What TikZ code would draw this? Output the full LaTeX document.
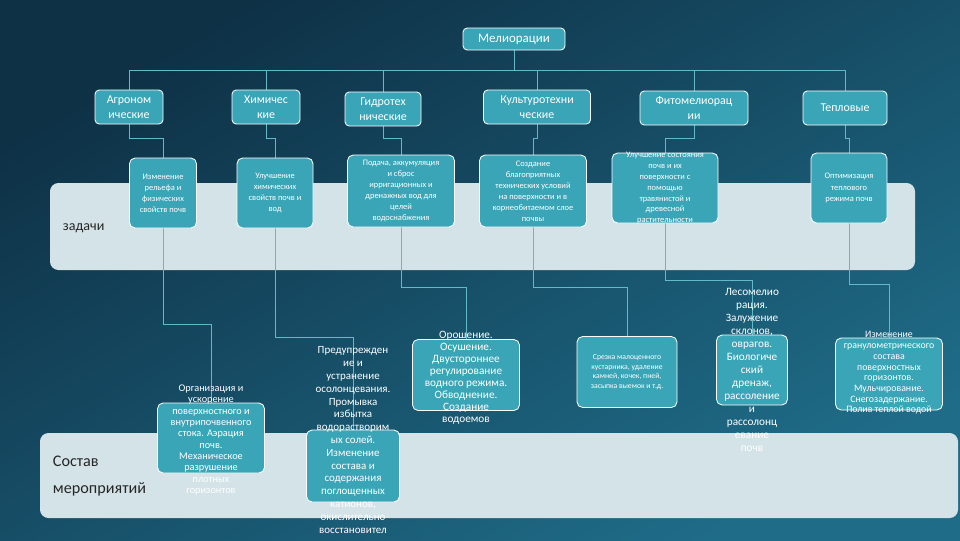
\documentclass[tikz,border=0pt]{standalone}
\usepackage{fontspec}
\setmainfont{Carlito}
\usetikzlibrary{backgrounds}

\definecolor{bgtop}{HTML}{0E3146}
\definecolor{bgbot}{HTML}{1F6C88}
\definecolor{boxfill}{HTML}{3AA5B7}
\definecolor{bandfill}{HTML}{D4E3E8}
\definecolor{linkc}{HTML}{62B9C8}

\newcommand{\fsz}[2]{\fontsize{#1}{#2}\selectfont}

\begin{document}
\begin{tikzpicture}[
  cat/.style={draw=white, semithick, fill=boxfill, rounded corners=3pt,
              text=white, align=center, minimum height=0.85cm,
              inner sep=1pt, font=\fsz{8.5}{10.4}},
  box/.style={draw=white, semithick, fill=boxfill, rounded corners=4pt},
  txt/.style={text=white, align=center, inner sep=0pt},
  band/.style={fill=bandfill, rounded corners=6pt},
  link/.style={linkc, thin},
  hd/.style={anchor=west, align=left, text=black!85},
]
  \useasboundingbox (0,0) rectangle (24,-13.5);

  %% Background and the two light bands
  \begin{pgfonlayer}{background}
    \shade[top color=bgtop, bottom color=bgbot, shading angle=30]
      (0,0) rectangle (24,-13.5);
    \fill[band] (1.25,-4.575) rectangle (22.875,-6.75);
    \fill[band] (1.0,-10.825) rectangle (23.95,-12.95);
  \end{pgfonlayer}

  \node[hd, font=\fsz{10}{12}] (zd) at (1.45,-5.7) {задачи};
  \node[hd, font=\fsz{11.5}{19}] (sm) at (1.2,-11.9) {Состав\\мероприятий};

  %% Root
  \node[cat, minimum width=2.55cm, minimum height=0.55cm,
        font=\fsz{9.2}{11}] (mel) at (12.85,-0.975) {Мелиорации};

  %% Kinds of melioration
  \node[cat, minimum width=1.7cm]   (c1) at (3.225,-2.675)  {Агроном\\ические};
  \node[cat, minimum width=1.7cm]   (c2) at (6.65,-2.675)   {Химичес\\кие};
  \node[cat, minimum width=1.9cm]   (c3) at (9.575,-2.725)  {Гидротех\\нические};
  \node[cat, minimum width=2.675cm] (c4) at (13.425,-2.675) {Культуротехни\\ческие};
  \node[cat, minimum width=2.7cm]   (c5) at (17.35,-2.7)    {Фитомелиорац\\ии};
  \node[cat, minimum width=2.1cm]   (c6) at (21.125,-2.7)   {Тепловые};

  %% Tasks
  \node[box, minimum width=1.675cm, minimum height=1.75cm] (t1) at (4.075,-4.825) {};
  \node[txt, font=\fsz{6}{7.9}] (t1t) at (t1) {Изменение\\рельефа и\\физических\\свойств почв};
  \node[box, minimum width=1.9cm, minimum height=1.75cm] (t2) at (6.875,-4.825) {};
  \node[txt, font=\fsz{6}{7.9}] (t2t) at (t2) {Улучшение\\химических\\свойств почв и\\вод};
  \node[box, minimum width=2.675cm, minimum height=1.8cm] (t3) at (10.025,-4.775) {};
  \node[txt, font=\fsz{6}{7.8}] (t3t) at (t3) {Подача, аккумуляция\\и сброс\\ирригационных и\\дренажных вод для\\целей\\водоснабжения};
  \node[box, minimum width=2.675cm, minimum height=1.8cm] (t4) at (13.325,-4.775) {};
  \node[txt, font=\fsz{6}{7.8}] (t4t) at (t4) {Создание\\благоприятных\\технических условий\\на поверхности и в\\корнеобитаемом слое\\почвы};
  \node[box, minimum width=2.65cm, minimum height=1.75cm] (t5) at (16.625,-4.7) {};
  \node[txt, font=\fsz{6}{7.8}] (t5t) at (16.625,-4.7) {Улучшение состояния\\почв и их\\поверхности с\\помощью\\травянистой и\\древесной\\растительности};
  \node[box, minimum width=1.9cm, minimum height=1.75cm] (t6) at (21.225,-4.7) {};
  \node[txt, font=\fsz{6}{7.9}] (t6t) at (t6) {Оптимизация\\теплового\\режима почв};

  %% Measures
  \node[box, minimum width=2.675cm, minimum height=1.75cm] (m1) at (5.275,-10.95) {};
  \node[txt, font=\fsz{7.3}{8.1}] (m1t) at (5.275,-11.0) {Организация и\\ускорение\\поверхностного и\\внутрипочвенного\\стока. Аэрация\\почв.\\Механическое\\разрушение\\плотных\\горизонтов};
  \node[box, minimum width=2.325cm, minimum height=1.8cm] (m2) at (8.825,-11.65) {};
  \node[txt, font=\fsz{7.8}{9.1}] (m2t) at (8.825,-11.0) {Предупрежден\\ие и\\устранение\\осолонцевания.\\Промывка\\избытка\\водорастворим\\ых солей.\\Изменение\\состава и\\содержания\\поглощенных\\катионов,\\окислительно\\восстановител};
  \node[box, minimum width=2.675cm, minimum height=1.775cm] (m3) at (11.65,-9.375) {};
  \node[txt, font=\fsz{8}{8.5}] (m3t) at (11.65,-9.45) {Орошение.\\Осушение.\\Двустороннее\\регулирование\\водного режима.\\Обводнение.\\Создание\\водоемов};
  \node[box, minimum width=2.5cm, minimum height=1.775cm] (m4) at (15.675,-9.3) {};
  \node[txt, font=\fsz{5.5}{6.9}] (m4t) at (m4) {Срезка малоценного\\кустарника, удаление\\камней, кочек, пней,\\засыпка выемок и т.д.};
  \node[box, minimum width=1.775cm, minimum height=1.75cm] (m5) at (18.8,-9.25) {};
  \node[txt, font=\fsz{8}{9.2}] (m5t) at (m5) {Лесомелио\\рация.\\Залужение\\склонов,\\оврагов.\\Биологиче\\ский\\дренаж,\\рассоление\\и\\рассолонц\\евание\\почв};
  \node[box, minimum width=2.675cm, minimum height=1.8cm] (m6) at (22.225,-9.35) {};
  \node[txt, font=\fsz{7}{7.6}] (m6t) at (22.225,-9.325) {Изменение\\гранулометрического\\состава\\поверхностных\\горизонтов.\\Мульчирование.\\Снегозадержание.\\Полив теплой водой};

  %% Connectors (kept behind the boxes)
  \begin{pgfonlayer}{background}
    \foreach \c in {c1,c2,c3,c4,c5,c6}
      \draw[link] (mel.south) |- (\c.north |- 0,-1.75) -- (\c.north);
    \foreach \c/\t in {c1/t1,c2/t2,c3/t3,c4/t4,c5/t5,c6/t6}
      \draw[link] (\c.south) -- (\c.south |- 0,-3.45) -| (\t.north);
    \foreach \t/\m/\y in {t1/m1/-8.1, t2/m2/-8.425, t3/m3/-7.175,
                          t4/m4/-7.175, t5/m5/-7.0, t6/m6/-7.1}
      \draw[link] (\t.south) -- (\t.south |- 0,\y) -| (\m.north);
  \end{pgfonlayer}
\end{tikzpicture}
\end{document}
